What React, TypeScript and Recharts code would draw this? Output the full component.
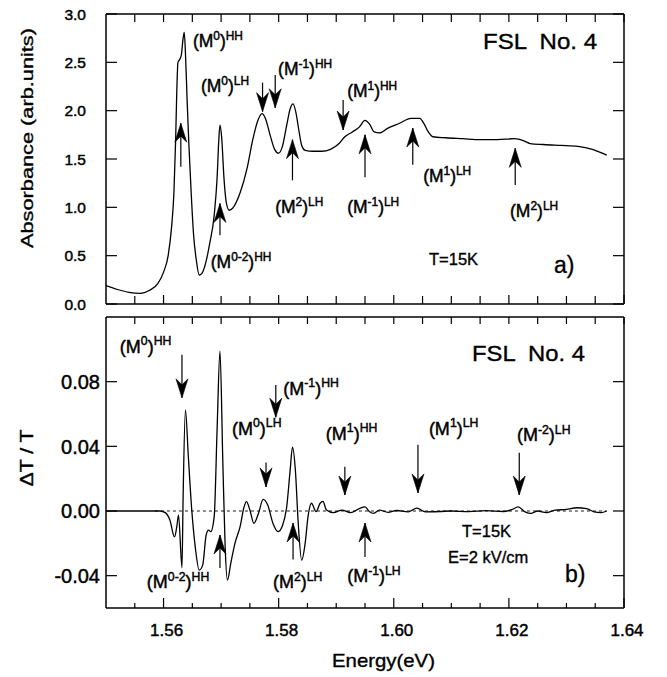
import React from 'react';
import { LineChart, Line, XAxis, YAxis, ReferenceLine, ReferenceDot } from 'recharts';

const FONT = '"Liberation Sans", Arial, Helvetica, sans-serif';
const TXT_STROKE = 0.45;

// ---------- data ----------
const absEnergy = [1.55, 1.552, 1.554, 1.556, 1.5575, 1.559, 1.56, 1.5608, 1.5614, 1.5618, 1.5621, 1.5623, 1.5625, 1.5628, 1.5631, 1.5634, 1.5636, 1.5638, 1.5641, 1.5644, 1.5648, 1.5652, 1.5657, 1.5662, 1.5667, 1.5673, 1.568, 1.5688, 1.5693, 1.5696, 1.5698, 1.5701, 1.5705, 1.5709, 1.5714, 1.572, 1.5733, 1.5745, 1.5755, 1.5764, 1.5771, 1.5777, 1.5785, 1.5793, 1.58, 1.5806, 1.5814, 1.582, 1.5825, 1.583, 1.5835, 1.584, 1.5846, 1.586, 1.5875, 1.589, 1.5905, 1.5915, 1.5928, 1.594, 1.595, 1.5958, 1.5966, 1.5975, 1.599, 1.601, 1.603, 1.6045, 1.6053, 1.606, 1.6068, 1.609, 1.612, 1.615, 1.618, 1.621, 1.6225, 1.6237, 1.626, 1.629, 1.632, 1.6345, 1.637];
const absValues = [0.19, 0.15, 0.12, 0.11, 0.14, 0.21, 0.33, 0.5, 0.8, 1.15, 1.7, 2.2, 2.5, 2.53, 2.58, 2.75, 2.81, 2.6, 2.1, 1.65, 1.15, 0.73, 0.45, 0.3, 0.32, 0.42, 0.62, 0.92, 1.3, 1.7, 1.85, 1.72, 1.3, 1.05, 0.97, 0.99, 1.15, 1.4, 1.7, 1.9, 1.97, 1.92, 1.75, 1.6, 1.56, 1.62, 1.85, 2.02, 2.07, 1.98, 1.8, 1.64, 1.59, 1.58, 1.58, 1.6, 1.66, 1.73, 1.78, 1.83, 1.9, 1.86, 1.78, 1.77, 1.82, 1.87, 1.92, 1.92, 1.86, 1.78, 1.73, 1.72, 1.71, 1.7, 1.7, 1.71, 1.69, 1.66, 1.65, 1.64, 1.63, 1.6, 1.54];

const dtEnergy = [1.55, 1.5594, 1.5603, 1.5611, 1.5619, 1.5623, 1.5626, 1.5632, 1.5634, 1.5638, 1.5643, 1.5649, 1.5655, 1.5662, 1.5668, 1.5674, 1.5678, 1.5682, 1.5688, 1.5693, 1.5698, 1.5703, 1.5707, 1.5711, 1.5717, 1.5724, 1.5733, 1.574, 1.5744, 1.575, 1.5757, 1.5765, 1.5773, 1.5781, 1.579, 1.5799, 1.5807, 1.5814, 1.582, 1.5824, 1.5829, 1.5834, 1.584, 1.5846, 1.5851, 1.5857, 1.5865, 1.5872, 1.5877, 1.5883, 1.5895, 1.591, 1.5925, 1.594, 1.595, 1.5958, 1.5965, 1.5975, 1.599, 1.6005, 1.6025, 1.604, 1.6055, 1.608, 1.61, 1.613, 1.616, 1.619, 1.6205, 1.6216, 1.6228, 1.6238, 1.625, 1.6265, 1.628, 1.63, 1.6318, 1.6335, 1.6348, 1.636, 1.637];
const dtValues = [0, 0, -0.001, -0.0056, -0.016, -0.0097, -0.0025, -0.035, 0.009, 0.0626, 0.034, 0.0006, -0.022, -0.0366, -0.0335, -0.0149, -0.0118, -0.0128, -0.0035, 0.05, 0.0988, 0.03, -0.022, -0.0428, -0.032, -0.02, -0.0097, 0.0027, 0.0058, 0.0006, -0.0076, -0.0014, 0.0072, 0.0037, -0.0076, -0.0128, -0.0087, 0.0027, 0.0254, 0.0395, 0.0254, -0.0076, -0.0304, -0.02, -0.0035, 0.0048, -0.0004, 0.0048, 0.006, 0.0006, -0.001, 0.0005, -0.001, 0.0015, 0.0025, -0.0005, -0.0015, 0.0005, -0.0008, 0.0003, -0.0005, 0.0018, -0.0005, -0.0003, 0, -0.0004, 0.0002, -0.0003, 0.0008, 0.0025, -0.0005, -0.0015, 0, -0.001, 0.0005, 0.001, 0.002, 0.0015, -0.0005, -0.001, 0];

const xTicks = [1.555, 1.56, 1.565, 1.57, 1.575, 1.58, 1.585, 1.59, 1.595, 1.6, 1.605, 1.61, 1.615, 1.62, 1.625, 1.63, 1.635, 1.64];
const absTicks = [0, 0.5, 1.0, 1.5, 2.0, 2.5, 3.0];
const dtTicks = [-0.04, 0, 0.04, 0.08];

// annotations: label position (e, v), exponent, band
const absLabelE = [1.5651, 1.5682, 1.5665, 1.5799, 1.5794, 1.5919, 1.5919, 1.6051, 1.6202];
const absLabelV = [2.66, 0.37, 2.19, 2.37, 0.94, 2.14, 0.94, 1.26, 0.90];
const absLabelExp = ['0', '0-2', '0', '-1', '2', '1', '-1', '1', '2'];
const absLabelBand = ['HH', 'HH', 'LH', 'HH', 'LH', 'HH', 'LH', 'LH', 'LH'];
const absArrowE = [1.563, 1.5698, 1.5772, 1.5794, 1.5824, 1.5912, 1.595, 1.6033, 1.6211];
const absArrowTail = [1.42, 0.71, 2.29, 2.37, 1.28, 2.11, 1.31, 1.44, 1.23];
const absArrowTip = [1.87, 1.04, 1.99, 2.03, 1.70, 1.80, 1.75, 1.82, 1.61];

const dtLabelE = [1.5524, 1.5571, 1.5808, 1.5719, 1.579, 1.5882, 1.5919, 1.6061, 1.6214];
const dtLabelV = [0.098, -0.0477, 0.072, 0.047, -0.0477, 0.044, -0.044, 0.047, 0.043];
const dtLabelExp = ['0', '0-2', '-1', '0', '2', '1', '-1', '1', '-2'];
const dtLabelBand = ['HH', 'HH', 'HH', 'LH', 'LH', 'HH', 'LH', 'LH', 'LH'];
const dtArrowE = [1.5632, 1.5698, 1.5795, 1.5778, 1.5825, 1.5915, 1.595, 1.6042, 1.6218];
const dtArrowTail = [0.0967, -0.0353, 0.078, 0.03, -0.03, 0.0273, -0.0285, 0.041, 0.036];
const dtArrowTip = [0.07, -0.0149, 0.058, 0.0149, -0.0074, 0.0099, -0.0074, 0.0112, 0.0099];

const absData = absEnergy.map((e, i) => ({ e, v: absValues[i] }));
const dtData = dtEnergy.map((e, i) => ({ e, v: dtValues[i] }));

// ---------- helpers ----------
const makeXTick = (inward: number, majorLen: number, minorLen: number, label: boolean) => (props: any) => {
  const { x, y, payload } = props;
  const k = Math.round(payload.value * 1000);
  const isMajor = k % 20 === 0;
  const len = isMajor ? majorLen : minorLen;
  return (
    <g>
      <line x1={x} x2={x} y1={y} y2={y - inward * len} stroke="#000" strokeWidth={1.2} />
      {label && isMajor && (
        <text x={x + 3} y={y + 28} textAnchor="middle" fontSize={17} fontFamily={FONT} fill="#000" stroke="#000" strokeWidth={TXT_STROKE}>
          {payload.value.toFixed(2)}
        </text>
      )}
    </g>
  );
};

const makeYTick = (side: 'left' | 'right', len: number, gap: number, fontSize: number, digits: number) => (props: any) => {
  const { x, y, payload } = props;
  const dir = side === 'left' ? 1 : -1;
  return (
    <g>
      <line x1={x} x2={x + dir * len} y1={y} y2={y} stroke="#000" strokeWidth={1.2} />
      {side === 'left' && (
        <text x={x - gap} y={y} dy="0.36em" textAnchor="end" fontSize={fontSize} fontFamily={FONT} fill="#000" stroke="#000" strokeWidth={TXT_STROKE}>
          {payload.value.toFixed(digits)}
        </text>
      )}
    </g>
  );
};

const labelShape = (exp: string, band: string, fs: number) => (props: any) => {
  const { cx, cy } = props;
  const sfs = fs * 0.68;
  return (
    <text x={cx} y={cy} fontSize={fs} fontFamily={FONT} fill="#000" stroke="#000" strokeWidth={TXT_STROKE}>
      <tspan>(M</tspan>
      <tspan fontSize={sfs} dy={-fs * 0.42}>{exp}</tspan>
      <tspan fontSize={fs} dy={fs * 0.42}>)</tspan>
      <tspan fontSize={sfs} dy={-fs * 0.42}>{band}</tspan>
    </text>
  );
};

const arrowHead = (up: boolean) => (props: any) => {
  const { cx, cy } = props;
  const s = up ? 1 : -1;
  const d = `M${cx},${cy} L${cx - 6},${cy + s * 19} L${cx},${cy + s * 13} L${cx + 6},${cy + s * 19} Z`;
  return <path d={d} fill="#000" stroke="#000" strokeWidth={0.6} />;
};

const renderAnnotations = (
  lE: number[], lV: number[], lExp: string[], lBand: string[],
  aE: number[], aTail: number[], aTip: number[], fs: number
) => {
  const out: any[] = [];
  aE.forEach((e, i) => {
    out.push(
      <ReferenceLine key={`s${i}`} segment={[{ x: e, y: aTail[i] }, { x: e, y: aTip[i] }]} stroke="#000" strokeWidth={1.2} />
    );
    out.push(
      <ReferenceDot key={`h${i}`} x={e} y={aTip[i]} r={1} shape={arrowHead(aTip[i] > aTail[i])} />
    );
  });
  lE.forEach((e, i) => {
    out.push(<ReferenceDot key={`l${i}`} x={e} y={lV[i]} r={1} shape={labelShape(lExp[i], lBand[i], fs)} />);
  });
  return out;
};

const axisStroke = { stroke: '#000', strokeWidth: 1.5 };

export default function App() {
  return (
    <div style={{ position: 'absolute', left: 0, top: 0, width: 667, height: 677, background: '#fff' }}>
      {/* Panel a */}
      <div style={{ position: 'absolute', left: 0, top: 0 }}>
        <LineChart width={667} height={317} data={absData} margin={{ top: 4, right: 33, bottom: 3, left: 46 }}>
          <XAxis xAxisId={0} dataKey="e" type="number" domain={[1.55, 1.64]} allowDataOverflow ticks={xTicks} interval={0}
            tickSize={0} tickMargin={0} tickLine={false} axisLine={axisStroke} height={10} tick={makeXTick(1, 9, 8, false)} />
          <XAxis xAxisId="top" orientation="top" dataKey="e" type="number" domain={[1.55, 1.64]} allowDataOverflow ticks={xTicks} interval={0}
            tickSize={0} tickMargin={0} tickLine={false} axisLine={axisStroke} height={10} tick={makeXTick(-1, 8, 8, false)} />
          <YAxis yAxisId={0} type="number" domain={[0, 3]} allowDataOverflow ticks={absTicks} interval={0}
            tickSize={0} tickMargin={0} tickLine={false} axisLine={axisStroke} width={60} tick={makeYTick('left', 11, 20, 15.5, 1)} />
          <YAxis yAxisId="r" orientation="right" type="number" domain={[0, 3]} allowDataOverflow ticks={absTicks} interval={0}
            tickSize={0} tickMargin={0} tickLine={false} axisLine={axisStroke} width={10} tick={makeYTick('right', 11, 0, 15, 1)} />
          {renderAnnotations(absLabelE, absLabelV, absLabelExp, absLabelBand, absArrowE, absArrowTail, absArrowTip, 17.5)}
          <Line dataKey="v" type="monotone" stroke="#000" strokeWidth={1.3} dot={false} isAnimationActive={false} />
        </LineChart>
      </div>
      {/* Panel b */}
      <div style={{ position: 'absolute', left: 0, top: 307 }}>
        <LineChart width={667} height={370} data={dtData} margin={{ top: 0, right: 33, bottom: 29, left: 46 }}>
          <XAxis xAxisId={0} dataKey="e" type="number" domain={[1.55, 1.64]} allowDataOverflow ticks={xTicks} interval={0}
            tickSize={0} tickMargin={0} tickLine={false} axisLine={axisStroke} height={40} tick={makeXTick(1, 10, 5, true)} />
          <XAxis xAxisId="top" orientation="top" dataKey="e" type="number" domain={[1.55, 1.64]} allowDataOverflow ticks={xTicks} interval={0}
            tickSize={0} tickMargin={0} tickLine={false} axisLine={axisStroke} height={10} tick={makeXTick(-1, 7, 7, false)} />
          <YAxis yAxisId={0} type="number" domain={[-0.06, 0.12]} allowDataOverflow ticks={dtTicks} interval={0}
            tickSize={0} tickMargin={0} tickLine={false} axisLine={axisStroke} width={60} tick={makeYTick('left', 11, 6, 20, 2)} />
          <YAxis yAxisId="r" orientation="right" type="number" domain={[-0.06, 0.12]} allowDataOverflow ticks={dtTicks} interval={0}
            tickSize={0} tickMargin={0} tickLine={false} axisLine={axisStroke} width={10} tick={makeYTick('right', 11, 0, 15, 2)} />
          <ReferenceLine segment={[{ x: 1.5585, y: 0 }, { x: 1.637, y: 0 }]} stroke="#000" strokeWidth={0.9} strokeDasharray="3 3" />
          {renderAnnotations(dtLabelE, dtLabelV, dtLabelExp, dtLabelBand, dtArrowE, dtArrowTail, dtArrowTip, 18)}
          <Line dataKey="v" type="monotone" stroke="#000" strokeWidth={1.3} dot={false} isAnimationActive={false} />
        </LineChart>
      </div>
      {/* static texts */}
      <svg width={667} height={677} style={{ position: 'absolute', left: 0, top: 0, pointerEvents: 'none' }}>
        <g fontFamily={FONT} fill="#000" stroke="#000" strokeWidth={0.35}>
          <text x={483} y={49} fontSize={22} textLength={114} lengthAdjust="spacingAndGlyphs" xmlSpace="preserve">FSL  No. 4</text>
          <text x={472} y={361} fontSize={22} textLength={113} lengthAdjust="spacingAndGlyphs" xmlSpace="preserve">FSL  No. 4</text>
          <text x={554} y={273} fontSize={23}>a)</text>
          <text x={565} y={582} fontSize={23}>b)</text>
          <text x={429} y={265} fontSize={16.5}>T=15K</text>
          <text x={462} y={537} fontSize={16.5}>T=15K</text>
          <text x={448} y={563} fontSize={16.5}>E=2 kV/cm</text>
          <text x={332} y={667} fontSize={19} textLength={103} lengthAdjust="spacingAndGlyphs">Energy(eV)</text>
          <text x={0} y={0} fontSize={17} textAnchor="middle" transform="translate(33,138) rotate(-90)" textLength={220} lengthAdjust="spacingAndGlyphs">Absorbance (arb.units)</text>
          <text x={0} y={0} fontSize={18} textAnchor="middle" transform="translate(33,458) rotate(-90)" textLength={57} lengthAdjust="spacingAndGlyphs">ΔT / T</text>
        </g>
      </svg>
    </div>
  );
}
